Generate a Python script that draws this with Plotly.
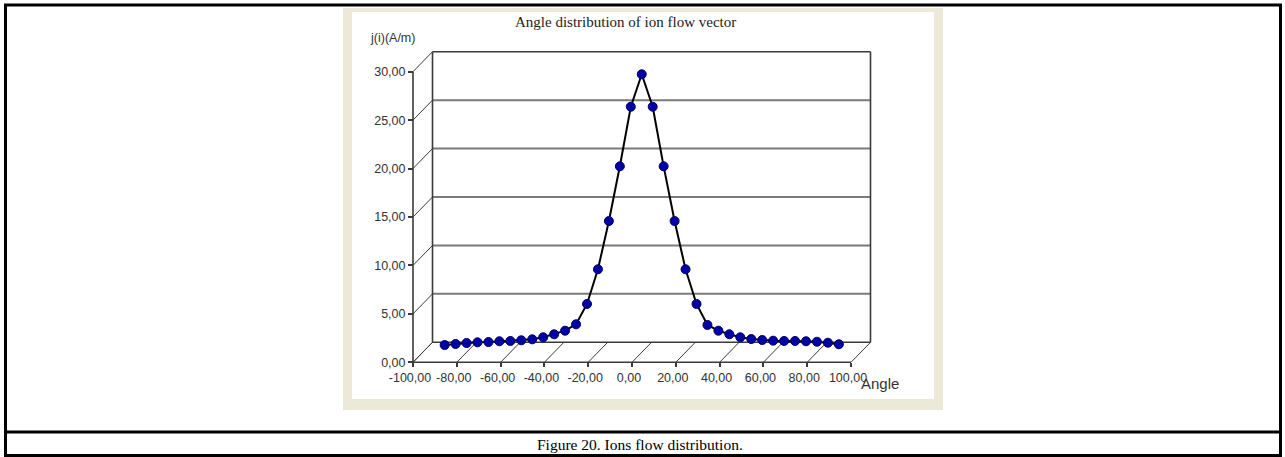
import plotly.graph_objects as go

# ---------------- data ----------------
angles = [-90, -85, -80, -75, -70, -65, -60, -55, -50, -45, -40, -35, -30, -25, -20, -15, -10, -5,
          0, 5, 10, 15, 20, 25, 30, 35, 40, 45, 50, 55, 60, 65, 70, 75, 80, 85, 90]
current = [0.75, 0.86, 0.96, 1.03, 1.06, 1.14, 1.17, 1.24, 1.34, 1.55, 1.86, 2.23, 2.89, 4.99, 8.57, 13.55, 19.2, 25.35,
           28.7, 25.35, 19.2, 13.55, 8.57, 4.99, 2.82, 2.23, 1.86, 1.55, 1.37, 1.27, 1.2, 1.17, 1.17, 1.14, 1.09, 0.99, 0.83]

x_tick_vals = [-100, -80, -60, -40, -20, 0, 20, 40, 60, 80, 100]
x_tick_text = ["-100,00", "-80,00", "-60,00", "-40,00", "-20,00", "0,00", "20,00", "40,00", "60,00", "80,00", "100,00"]
y_tick_vals = [0, 5, 10, 15, 20, 25, 30]
y_tick_text = ["0,00", "5,00", "10,00", "15,00", "20,00", "25,00", "30,00"]

title_text = "Angle distribution of ion flow vector"
y_label = "j(i)(A/m)"
x_label = "Angle"
caption = "Figure 20. Ions flow distribution."

# ---------------- geometry ----------------
W, H = 1285, 457
X_PER = 2.19      # px per degree
Y_PER = 9.687     # px per A/m
X0_PX = 413.0     # pixel of x=-100 (front)
Y0_PX = 362.3     # pixel of y=0 (front)
L, R, T, B = 400, 885, 40, 372   # plot area in pixels (padded)
XMIN = x_tick_vals[0]
YMAX = y_tick_vals[-1]
XMAX = x_tick_vals[-1]

xr = [XMIN + (L - X0_PX) / X_PER, XMIN + (R - X0_PX) / X_PER]
yr = [(Y0_PX - B) / Y_PER, (Y0_PX - T) / Y_PER]
DX = 19.5 / X_PER
DY = 20.0 / Y_PER

def px(x):
    return (x - L) / (R - L)

def py(y):
    return (B - y) / (B - T)

fig = go.Figure()

fig.add_trace(go.Scatter(
    x=angles, y=current, xaxis="x2", yaxis="y2", mode="lines+markers",
    line=dict(color="#000000", width=2),
    marker=dict(size=9, color="#0000A8", line=dict(color="#000060", width=1)),
    showlegend=False, hoverinfo="x+y"))

shapes = []
# chart image background
shapes.append(dict(type="rect", xref="paper", yref="paper", x0=px(343), x1=px(943), y0=py(8), y1=py(410),
                   fillcolor="#ECE9D8", line=dict(width=0), layer="below"))
shapes.append(dict(type="rect", xref="paper", yref="paper", x0=px(352), x1=px(934), y0=py(12), y1=py(399),
                   fillcolor="#FFFFFF", line=dict(width=0), layer="below"))

grid_col = "#7A7A7A"
frame_col = "#3A3A3A"
# back wall horizontal lines + left wall diagonals
for v in y_tick_vals:
    is_frame = v in (y_tick_vals[0], y_tick_vals[-1])
    shapes.append(dict(type="line", xref="x", yref="y", x0=XMIN + DX, x1=XMAX + DX, y0=v + DY, y1=v + DY,
                       line=dict(color=frame_col if is_frame else grid_col, width=1.6 if is_frame else 2), layer="below"))
    shapes.append(dict(type="line", xref="x", yref="y", x0=XMIN, x1=XMIN + DX, y0=v, y1=v + DY,
                       line=dict(color=frame_col, width=1), layer="below"))
# floor diagonals
for xv in x_tick_vals:
    shapes.append(dict(type="line", xref="x", yref="y", x0=xv, x1=xv + DX, y0=0, y1=DY,
                       line=dict(color=frame_col, width=1), layer="below"))
# back wall verticals
for xv in (XMIN + DX, XMAX + DX):
    shapes.append(dict(type="line", xref="x", yref="y", x0=xv, x1=xv, y0=DY, y1=YMAX + DY,
                       line=dict(color=frame_col, width=1.6), layer="below"))
# front axes
shapes.append(dict(type="line", xref="x", yref="y", x0=XMIN, x1=XMAX, y0=0, y1=0,
                   line=dict(color=frame_col, width=1.6), layer="below"))
shapes.append(dict(type="line", xref="x", yref="y", x0=XMIN, x1=XMIN, y0=0, y1=YMAX,
                   line=dict(color=frame_col, width=1.6), layer="below"))

# outer table borders
bc = "#000000"
for (x0, y0, x1, y1, w) in [(4, 5, 1282, 5, 3), (5.5, 4, 5.5, 456, 3), (1280.5, 4, 1280.5, 456, 3),
                            (4, 432, 1282, 432, 3), (4, 455.5, 1282, 455.5, 3)]:
    shapes.append(dict(type="line", xref="paper", yref="paper", x0=px(x0), x1=px(x1), y0=py(y0), y1=py(y1),
                       line=dict(color=bc, width=w), layer="above"))

tick_font = dict(family="Liberation Sans, Arial, sans-serif", size=12.5, color="#333333")

annotations = [
    dict(text=title_text, x=px(625), y=py(22), xref="paper", yref="paper", showarrow=False,
         font=dict(family="Liberation Serif, Times New Roman, serif", size=15, color="#222222"),
         xanchor="center", yanchor="middle"),
    dict(text=y_label, x=px(392), y=py(38), xref="paper", yref="paper", showarrow=False,
         font=tick_font, xanchor="center", yanchor="middle"),
    dict(text=x_label, x=px(880), y=py(383), xref="paper", yref="paper", showarrow=False,
         font=dict(family="Liberation Sans, Arial, sans-serif", size=15, color="#333333"),
         xanchor="center", yanchor="middle"),
    dict(text=caption, x=px(640), y=py(444), xref="paper", yref="paper", showarrow=False,
         font=dict(family="Liberation Serif, Times New Roman, serif", size=15.5, color="#000000"),
         xanchor="center", yanchor="middle"),
]

fig.update_layout(
    width=W, height=H, autosize=False,
    margin=dict(l=L, r=W - R, t=T, b=H - B, pad=0, autoexpand=False),
    paper_bgcolor="#FFFFFF", plot_bgcolor="rgba(0,0,0,0)",
    showlegend=False,
    xaxis=dict(range=xr, tickvals=x_tick_vals, ticktext=x_tick_text, ticks="outside", ticklen=4,
               tickcolor=frame_col, tickwidth=1.5, showgrid=False, zeroline=False, showline=False,
               anchor="free", position=py(Y0_PX), tickfont=tick_font, ticklabelshift=-3, fixedrange=True),
    yaxis=dict(range=yr, tickvals=y_tick_vals, ticktext=y_tick_text, ticks="outside", ticklen=5,
               tickcolor=frame_col, tickwidth=1.5, showgrid=False, zeroline=False, showline=False,
               anchor="free", position=px(X0_PX), tickfont=tick_font, fixedrange=True),
    xaxis2=dict(overlaying="x", range=[xr[0] - DX / 2, xr[1] - DX / 2], visible=False, fixedrange=True),
    yaxis2=dict(overlaying="y", range=[yr[0] - DY / 2, yr[1] - DY / 2], visible=False, fixedrange=True),
    shapes=shapes, annotations=annotations,
)

fig.write_html("out.html")
